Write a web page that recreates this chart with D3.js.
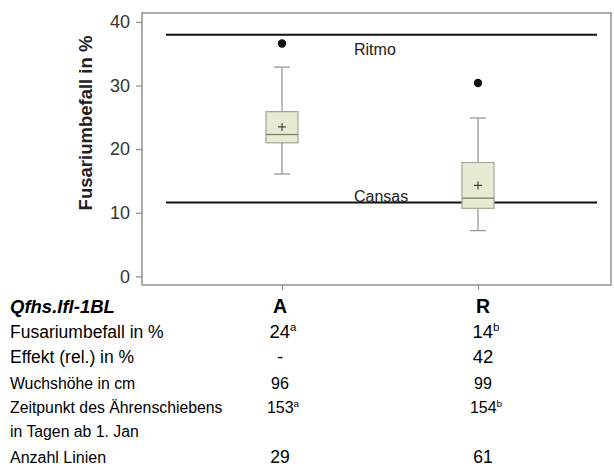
<!DOCTYPE html>
<html>
<head>
<meta charset="utf-8">
<script src="https://cdn.jsdelivr.net/npm/d3@7"></script>
<style>
  html, body { margin: 0; padding: 0; background: #fff; }
  svg { display: block; font-family: "Liberation Sans", Arial, sans-serif; }
</style>
</head>
<body>
<svg id="chart" width="614" height="470"></svg>
<script>
// Allele groups of the QTL and their box-plot statistics (Fusarium infection, %)
const groups = ["A", "R"];
const whiskerLow  = [16.1, 7.2];
const q1          = [21.0, 10.7];
const median      = [22.3, 12.3];
const mean        = [23.5, 14.3];
const q3          = [25.9, 17.9];
const whiskerHigh = [32.9, 24.9];
const outliers    = [[36.6], [30.4]];

// Reference varieties drawn as horizontal lines
const checkNames  = ["Ritmo", "Cansas"];
const checkValues = [38.0, 11.6];

const yTicks = [0, 10, 20, 30, 40];

// Summary table below the plot
const tableHeader = "Qfhs.Ifl-1BL";
const rowLabels = [
  "Fusariumbefall in %",
  "Effekt (rel.) in %",
  "Wuchshöhe in cm",
  "Zeitpunkt des Ährenschiebens",
  "in Tagen ab 1. Jan",
  "Anzahl Linien"
];
const colA = [["24", "a"], ["-", ""], ["96", ""], ["153", "a"], ["", ""], ["29", ""]];
const colR = [["14", "b"], ["42", ""], ["99", ""], ["154", "b"], ["", ""], ["61", ""]];
const rowSizes = [17.5, 17.5, 15.8, 15.8, 15.8, 16];
const valueSizes = [18.5, 18.5, 16, 16, 16, 17.5];

const svg = d3.select("#chart");

// Plot frame
const frame = { left: 142, right: 611, top: 13, bottom: 285 };

const y = d3.scaleLinear().domain([-1.35, 41.4]).range([frame.bottom, frame.top]);
const x = d3.scalePoint().domain(groups).range([282, 478]);

const frameColor = "#8c8c8c";

svg.append("rect")
  .attr("x", frame.left).attr("y", frame.top)
  .attr("width", frame.right - frame.left).attr("height", frame.bottom - frame.top)
  .attr("fill", "none").attr("stroke", frameColor).attr("stroke-width", 1.4);

// Y axis
const yAxis = svg.append("g")
  .attr("transform", `translate(${frame.left},0)`)
  .call(d3.axisLeft(y).tickValues(yTicks).tickSize(6).tickPadding(6).tickFormat(d3.format("d")));
yAxis.select(".domain").remove();
yAxis.selectAll(".tick line").attr("stroke", frameColor).attr("stroke-width", 1.2);
yAxis.selectAll(".tick text")
  .attr("fill", "#333").attr("font-size", 18)
  .attr("font-family", "Liberation Sans, Arial, sans-serif");

// X axis ticks at the group positions
const xAxis = svg.append("g")
  .attr("transform", `translate(0,${frame.bottom})`)
  .call(d3.axisBottom(x).tickSize(5).tickFormat(""));
xAxis.select(".domain").remove();
xAxis.selectAll(".tick line").attr("stroke", frameColor).attr("stroke-width", 1.2);

// Y axis title
svg.append("text")
  .attr("transform", `translate(92,123) rotate(-90)`)
  .attr("text-anchor", "middle")
  .attr("font-size", 18.5).attr("font-weight", "bold").attr("fill", "#222")
  .text("Fusariumbefall in %");

// Reference variety lines
svg.selectAll("line.check")
  .data(checkValues)
  .join("line")
  .attr("class", "check")
  .attr("x1", 166).attr("x2", 597)
  .attr("y1", d => y(d)).attr("y2", d => y(d))
  .attr("stroke", "#111").attr("stroke-width", 2);

svg.selectAll("text.check")
  .data(checkNames)
  .join("text")
  .attr("class", "check")
  .attr("x", 354)
  .attr("y", (d, i) => i === 0 ? y(checkValues[i]) + 20 : y(checkValues[i]) - 1)
  .attr("font-size", 16).attr("fill", "#222")
  .text(d => d);

// Box plots
const boxW = 32, capW = 16;
const whiskerColor = "#9a9a9a";
const boxes = svg.selectAll("g.box")
  .data(groups.map((g, i) => ({ g, i })))
  .join("g").attr("class", "box");

boxes.append("line")
  .attr("x1", d => x(d.g)).attr("x2", d => x(d.g))
  .attr("y1", d => y(whiskerLow[d.i])).attr("y2", d => y(whiskerHigh[d.i]))
  .attr("stroke", whiskerColor).attr("stroke-width", 1.3);

[whiskerLow, whiskerHigh].forEach(arr => {
  boxes.append("line")
    .attr("x1", d => x(d.g) - capW / 2).attr("x2", d => x(d.g) + capW / 2)
    .attr("y1", d => y(arr[d.i])).attr("y2", d => y(arr[d.i]))
    .attr("stroke", whiskerColor).attr("stroke-width", 1.3);
});

boxes.append("rect")
  .attr("x", d => x(d.g) - boxW / 2).attr("width", boxW)
  .attr("y", d => y(q3[d.i])).attr("height", d => y(q1[d.i]) - y(q3[d.i]))
  .attr("fill", "#e8ebd4").attr("stroke", "#a3a596").attr("stroke-width", 1.2);

boxes.append("line")
  .attr("x1", d => x(d.g) - boxW / 2).attr("x2", d => x(d.g) + boxW / 2)
  .attr("y1", d => y(median[d.i])).attr("y2", d => y(median[d.i]))
  .attr("stroke", "#7d8060").attr("stroke-width", 1.3);

// Mean marker
boxes.append("path")
  .attr("d", d => {
    const cx = x(d.g), cy = y(mean[d.i]), s = 4;
    return `M${cx - s},${cy}H${cx + s}M${cx},${cy - s}V${cy + s}`;
  })
  .attr("stroke", "#444").attr("stroke-width", 1.2);

// Outliers
boxes.selectAll("circle")
  .data(d => outliers[d.i].map(v => ({ g: d.g, v })))
  .join("circle")
  .attr("cx", d => x(d.g)).attr("cy", d => y(d.v))
  .attr("r", 4.2).attr("fill", "#111");

// Summary table
const tx = d3.scalePoint().domain(groups).range([280, 483]);
const headerY = 313;
const rowYs = [338, 363, 388.5, 413, 437, 463];

svg.append("text")
  .attr("x", 10).attr("y", headerY)
  .attr("font-size", 18.5).attr("font-weight", "bold").attr("font-style", "italic")
  .attr("fill", "#000")
  .text(tableHeader);

svg.selectAll("text.colhead")
  .data(groups)
  .join("text").attr("class", "colhead")
  .attr("x", d => tx(d)).attr("y", headerY)
  .attr("text-anchor", "middle")
  .attr("font-size", 19.5).attr("font-weight", "bold").attr("fill", "#000")
  .text(d => d);

svg.selectAll("text.rowlabel")
  .data(rowLabels)
  .join("text").attr("class", "rowlabel")
  .attr("x", 10).attr("y", (d, i) => rowYs[i])
  .attr("font-size", (d, i) => rowSizes[i]).attr("fill", "#000")
  .text(d => d);

[colA, colR].forEach((col, ci) => {
  col.forEach((cell, ri) => {
    if (!cell[0]) return;
    const t = svg.append("text")
      .attr("x", tx(groups[ci]) + (cell[1] ? 3 : 0)).attr("y", rowYs[ri])
      .attr("text-anchor", "middle")
      .attr("font-size", valueSizes[ri]).attr("fill", "#000");
    t.append("tspan").text(cell[0]);
    if (cell[1]) {
      t.append("tspan")
        .attr("font-size", valueSizes[ri] * 0.62)
        .attr("dy", -valueSizes[ri] * 0.38)
        .text(cell[1]);
    }
  });
});
</script>
</body>
</html>
